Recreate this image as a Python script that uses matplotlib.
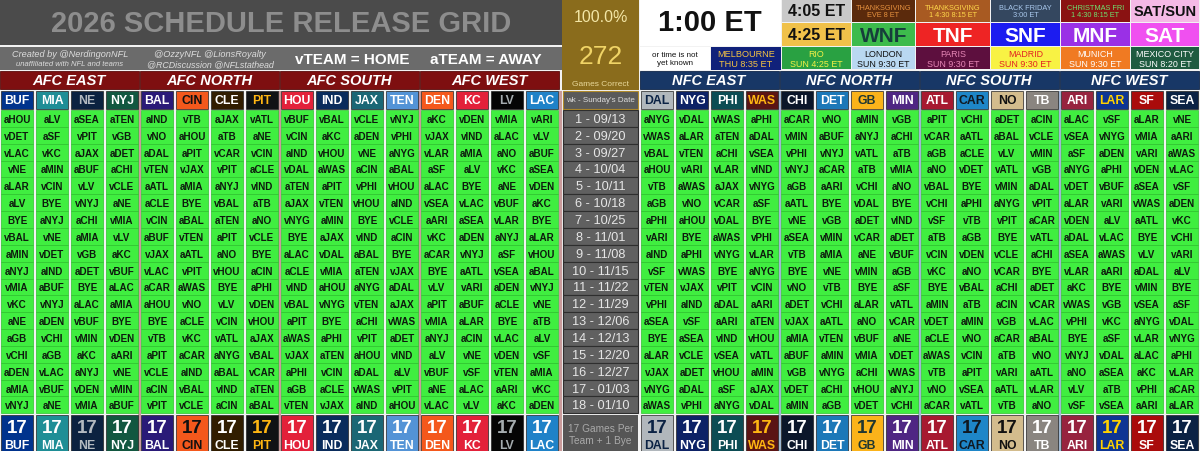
import matplotlib
matplotlib.use("Agg")
import matplotlib.pyplot as plt
from matplotlib.patches import Rectangle

plt.rcParams['font.family'] = ['Liberation Sans', 'DejaVu Sans']

# ---- data ----
afc_teams = ["BUF", "MIA", "NE", "NYJ", "BAL", "CIN", "CLE", "PIT",
             "HOU", "IND", "JAX", "TEN", "DEN", "KC", "LV", "LAC"]
nfc_teams = ["DAL", "NYG", "PHI", "WAS", "CHI", "DET", "GB", "MIN",
             "ATL", "CAR", "NO", "TB", "ARI", "LAR", "SF", "SEA"]
afc_divisions = ["AFC EAST", "AFC NORTH", "AFC SOUTH", "AFC WEST"]
nfc_divisions = ["NFC EAST", "NFC NORTH", "NFC SOUTH", "NFC WEST"]
week_labels = ["1 - 09/13", "2 - 09/20", "3 - 09/27", "4 - 10/04", "5 - 10/11",
               "6 - 10/18", "7 - 10/25", "8 - 11/01", "9 - 11/08", "10 - 11/15",
               "11 - 11/22", "12 - 11/29", "13 - 12/06", "14 - 12/13", "15 - 12/20",
               "16 - 12/27", "17 - 01/03", "18 - 01/10"]
pct_correct = "100.0%"
games_correct = 272

# opponent by week, v = home, a = away
BUF = ["aHOU", "vDET", "vLAC", "vNE", "aLAR", "aLV", "BYE", "vBAL", "aMIN", "aNYJ", "vMIA", "vKC", "aNE", "aGB", "vCHI", "aDEN", "aMIA", "vNYJ"]
MIA = ["aLV", "aSF", "vKC", "aMIN", "vCIN", "BYE", "aNYJ", "vNE", "vDET", "aIND", "aBUF", "vNYJ", "aDEN", "vCHI", "aGB", "vLAC", "vBUF", "aNE"]
NE = ["aSEA", "vPIT", "aJAX", "aBUF", "vLV", "vNYJ", "aCHI", "aMIA", "vGB", "aDET", "BYE", "aLAC", "vBUF", "vMIN", "aKC", "aNYJ", "vDEN", "vMIA"]
NYJ = ["aTEN", "vGB", "aDET", "aCHI", "vCLE", "aNE", "vMIA", "vLV", "aKC", "vBUF", "aLAC", "aMIA", "BYE", "vDEN", "aARI", "vNE", "vMIN", "aBUF"]
BAL = ["aIND", "vNO", "aDAL", "vTEN", "aATL", "aCLE", "vCIN", "aBUF", "vJAX", "vLAC", "aCAR", "aHOU", "BYE", "vTB", "aPIT", "vCLE", "aCIN", "vPIT"]
CIN = ["vTB", "aHOU", "aPIT", "vJAX", "aMIA", "BYE", "aBAL", "vTEN", "aATL", "vPIT", "aWAS", "vNO", "aCLE", "vKC", "aCAR", "aIND", "vBAL", "vCLE"]
CLE = ["aJAX", "aTB", "vCAR", "vPIT", "aNYJ", "vBAL", "aTEN", "aPIT", "aNO", "vHOU", "BYE", "vLV", "vCIN", "vATL", "aNYG", "aBAL", "vIND", "aCIN"]
PIT = ["vATL", "aNE", "vCIN", "aCLE", "vIND", "aTB", "aNO", "vCLE", "BYE", "aCIN", "aPHI", "vDEN", "vHOU", "aJAX", "vBAL", "vCAR", "aTEN", "aBAL"]
HOU = ["vBUF", "vCIN", "aIND", "vDAL", "aTEN", "aJAX", "vNYG", "BYE", "aLAC", "aCLE", "vIND", "vBAL", "aPIT", "aWAS", "vJAX", "aPHI", "aGB", "vTEN"]
IND = ["vBAL", "aKC", "vHOU", "aWAS", "aPIT", "vTEN", "aMIN", "aJAX", "vDAL", "vMIA", "aHOU", "vNYG", "BYE", "aPHI", "aTEN", "vCIN", "aCLE", "vJAX"]
JAX = ["vCLE", "aDEN", "vNE", "aCIN", "vPHI", "vHOU", "BYE", "vIND", "aBAL", "aTEN", "aNYG", "vTEN", "aCHI", "vPIT", "aHOU", "aDAL", "vWAS", "aIND"]
TEN = ["vNYJ", "vPHI", "aNYG", "aBAL", "vHOU", "aIND", "vCLE", "aCIN", "BYE", "vJAX", "aDAL", "aJAX", "vWAS", "aDET", "vIND", "aLV", "vPIT", "aHOU"]
DEN = ["aKC", "vJAX", "vLAR", "aSF", "aLAC", "vSEA", "aARI", "vKC", "aCAR", "BYE", "vLV", "aPIT", "vMIA", "aNYJ", "aLV", "vBUF", "aNE", "vLAC"]
KC = ["vDEN", "vIND", "aMIA", "aLV", "BYE", "vLAC", "aSEA", "aDEN", "vNYJ", "aATL", "vARI", "aBUF", "aLAR", "aCIN", "vNE", "vSF", "aLAC", "vLV"]
LV = ["vMIA", "aLAC", "aNO", "vKC", "aNE", "vBUF", "vLAR", "aNYJ", "aSF", "vSEA", "aDEN", "aCLE", "BYE", "vLAC", "vDEN", "vTEN", "aARI", "aKC"]
LAC = ["vARI", "vLV", "aBUF", "aSEA", "vDEN", "aKC", "BYE", "aLAR", "vHOU", "aBAL", "vNYJ", "vNE", "aTB", "aLV", "vSF", "aMIA", "vKC", "aDEN"]
DAL = ["aNYG", "vWAS", "vBAL", "aHOU", "vTB", "aGB", "aPHI", "vARI", "aIND", "vSF", "vTEN", "vPHI", "aSEA", "BYE", "aLAR", "vJAX", "vNYG", "aWAS"]
NYG = ["vDAL", "aLAR", "vTEN", "vARI", "aWAS", "vNO", "aHOU", "BYE", "aPHI", "vWAS", "vJAX", "aIND", "vSF", "aSEA", "vCLE", "aDET", "aDAL", "vPHI"]
PHI = ["vWAS", "aTEN", "aCHI", "vLAR", "aJAX", "vCAR", "vDAL", "aWAS", "vNYG", "BYE", "vPIT", "aDAL", "aARI", "vIND", "vSEA", "vHOU", "aSF", "aNYG"]
WAS = ["aPHI", "aDAL", "vSEA", "vIND", "vNYG", "aSF", "BYE", "vPHI", "vLAR", "aNYG", "vCIN", "aARI", "aTEN", "vHOU", "vATL", "aMIN", "aJAX", "vDAL"]
CHI = ["aCAR", "vMIN", "vPHI", "vNYJ", "aGB", "aATL", "vNE", "aSEA", "vTB", "BYE", "vNO", "aDET", "vJAX", "aMIA", "aBUF", "vGB", "vDET", "aMIN"]
DET = ["vNO", "aBUF", "vNYJ", "aCAR", "aARI", "BYE", "vGB", "vMIN", "aMIA", "vNE", "vTB", "vCHI", "aATL", "vTEN", "aMIN", "vNYG", "aCHI", "aGB"]
GB = ["aMIN", "aNYJ", "vATL", "aTB", "vCHI", "vDAL", "aDET", "vCAR", "aNE", "vMIN", "BYE", "aLAR", "aNO", "vBUF", "vMIA", "aCHI", "vHOU", "vDET"]
MIN = ["vGB", "aCHI", "aTB", "vMIA", "aNO", "BYE", "vIND", "aDET", "vBUF", "aGB", "aSF", "vATL", "vCAR", "aNE", "vDET", "vWAS", "aNYJ", "vCHI"]
ATL = ["aPIT", "vCAR", "aGB", "aNO", "vBAL", "vCHI", "vSF", "aTB", "vCIN", "vKC", "BYE", "aMIN", "vDET", "aCLE", "aWAS", "vTB", "vNO", "aCAR"]
CAR = ["vCHI", "aATL", "aCLE", "vDET", "BYE", "aPHI", "vTB", "aGB", "vDEN", "aNO", "vBAL", "aTB", "aMIN", "vNO", "vCIN", "aPIT", "vSEA", "vATL"]
NO = ["aDET", "aBAL", "vLV", "vATL", "vMIN", "aNYG", "vPIT", "BYE", "vCLE", "vCAR", "aCHI", "aCIN", "vGB", "aCAR", "aTB", "vARI", "aATL", "vTB"]
TB = ["aCIN", "vCLE", "vMIN", "vGB", "aDAL", "vPIT", "aCAR", "vATL", "aCHI", "BYE", "aDET", "vCAR", "vLAC", "aBAL", "vNO", "aATL", "vLAR", "aNO"]
ARI = ["aLAC", "vSEA", "aSF", "aNYG", "vDET", "aLAR", "vDEN", "aDAL", "aSEA", "vLAR", "aKC", "vWAS", "vPHI", "BYE", "vNYJ", "aNO", "vLV", "vSF"]
LAR = ["vSF", "vNYG", "aDEN", "aPHI", "vBUF", "vARI", "aLV", "vLAC", "aWAS", "aARI", "BYE", "vGB", "vKC", "aSF", "vDAL", "aSEA", "aTB", "vSEA"]
SF = ["aLAR", "vMIA", "vARI", "vDEN", "aSEA", "vWAS", "aATL", "BYE", "vLV", "aDAL", "vMIN", "vSEA", "aNYG", "vLAR", "aLAC", "aKC", "vPHI", "aARI"]
SEA = ["vNE", "aARI", "aWAS", "vLAC", "vSF", "aDEN", "vKC", "vCHI", "vARI", "aLV", "BYE", "aSF", "vDAL", "vNYG", "aPHI", "vLAR", "aCAR", "aLAR"]

afc_sched = [BUF, MIA, NE, NYJ, BAL, CIN, CLE, PIT, HOU, IND, JAX, TEN, DEN, KC, LV, LAC]
nfc_sched = [DAL, NYG, PHI, WAS, CHI, DET, GB, MIN, ATL, CAR, NO, TB, ARI, LAR, SF, SEA]

# legend boxes in the top right corner
legend_text = [["4:05 ET", "THANKSGIVING\nEVE 8 ET", "THANKSGIVING\n1 4:30 8:15 ET",
                "BLACK FRIDAY\n3:00 ET", "CHRISTMAS FRI\n1 4:30 8:15 ET", "SAT/SUN"],
               ["4:25 ET", "WNF", "TNF", "SNF", "MNF", "SAT"],
               ["RIO\nSUN 4:25 ET", "LONDON\nSUN 9:30 ET", "PARIS\nSUN 9:30 ET",
                "MADRID\nSUN 9:30 ET", "MUNICH\nSUN 9:30 ET", "MEXICO CITY\nSUN 8:20 ET"]]
legend_bg = [["#c9c9c9", "#5b2a0c", "#a85a22", "#34475f", "#8a1212", "#f5b9e6"],
             ["#f0c14a", "#3dbb4c", "#ee2424", "#1c1cf0", "#9a30e6", "#f050f0"],
             ["#29a142", "#b9d8f1", "#5d0f3e", "#f8f244", "#f07a22", "#1f5b40"]]
legend_fg = [["#111111", "#e6913e", "#ffd84a", "#a9c8ec", "#6fe06f", "#111111"],
             ["#111111", "#163d3b", "white", "white", "white", "white"],
             ["#f4f046", "#111111", "#e585b5", "#e22222", "white", "white"]]
legend_size = [[11.5, 5.3, 5.3, 5.3, 5.3, 10.5],
               [11.5, 15, 15, 15, 15, 15],
               [6.4, 6.4, 6.4, 6.4, 6.4, 6.4]]

team_bg = {"BUF": "#00338d", "MIA": "#1e8e96", "NE": "#0b2240", "NYJ": "#125740",
           "BAL": "#2a1a78", "CIN": "#f4581c", "CLE": "#311d00", "PIT": "#101214",
           "HOU": "#e3213a", "IND": "#0a2c5c", "JAX": "#1b6775", "TEN": "#5393d6",
           "DEN": "#f4581c", "KC": "#e3213a", "LV": "#050505", "LAC": "#1f82c8",
           "DAL": "#b1b7bc", "NYG": "#0d2266", "PHI": "#0c4c54", "WAS": "#5a1414",
           "CHI": "#0b162a", "DET": "#1c78b8", "GB": "#fbb31a", "MIN": "#4f2683",
           "ATL": "#a71930", "CAR": "#1e86c8", "NO": "#d3bc8d", "TB": "#8a8580",
           "ARI": "#97233f", "LAR": "#0e3593", "SF": "#aa0b0b", "SEA": "#0b2244"}
team_fg = {"NE": "#b3bac0", "PIT": "#ffb612", "CIN": "#111111", "LV": "#a5acaf",
           "DAL": "#0b2244", "WAS": "#ffb612", "GB": "#203731", "CAR": "#101820",
           "NO": "#111111", "LAR": "#ffd100"}

# ---- layout (pixels) ----
COL_W, CELL_W = 35, 32
AFC_X0, NFC_X0 = 1, 641
MID_X0, MID_W = 563, 75
HEAD_Y, HEAD_H = 92, 18
ROW_Y0, ROW_H = 111, 16.85
FOOT_Y, FOOT_H = ROW_Y0 + 18 * ROW_H + 1.5, 38
GREEN = "#40ee40"

fig = plt.figure(figsize=(12, 4.52), dpi=100)
ax = fig.add_axes([0, 0, 1, 1])
ax.set_xlim(0, 1200)
ax.set_ylim(452, 0)
ax.axis("off")
fig.patch.set_facecolor("#f2f2f2")


def box(x, y, w, h, fc, ec="none", lw=0.0):
    ax.add_patch(Rectangle((x, y), w, h, facecolor=fc, edgecolor=ec, linewidth=lw))


def write(x, y, s, size, color, weight="bold", style="normal", ls=1.0):
    ax.text(x, y, s, ha="center", va="center", fontsize=size, color=color,
            fontweight=weight, fontstyle=style, linespacing=ls)


# ---- header block ----
box(0, 0, MID_X0 - 1, 46, "#4b4b4b")
write(281, 24, "2026 SCHEDULE RELEASE GRID", 21, "#8d8d8d")
box(0, 48, MID_X0 - 1, 23, "#6b6b6b")
write(70, 54.5, "Created by @NerdingonNFL", 6.6, "#dcdcdc", "normal", "italic")
write(70, 65, "unaffiliated with NFL and teams", 5.5, "#dcdcdc", "normal", "italic")
write(210, 54.5, "@OzzyNFL @LionsRoyalty", 6.6, "#dcdcdc", "normal", "italic")
write(210, 65, "@RCDiscussion @NFLstathead", 6.4, "#dcdcdc", "normal", "italic")
write(352, 59.5, "vTEAM = HOME", 11, "white")
write(486, 59.5, "aTEAM = AWAY", 11, "white")

# gold "games correct" box
box(MID_X0 - 1, 0, MID_W + 2, HEAD_Y - 1, "#8a6c1c")
write(MID_X0 + MID_W / 2, 17, pct_correct, 11.5, "#f3e6a6", "normal")
write(MID_X0 + MID_W / 2, 57, str(games_correct), 19, "#f0d466", "normal")
write(MID_X0 + MID_W / 2, 85, "Games Correct", 6, "#e8d89a", "normal")

# kickoff time legend
box(NFC_X0 - 1, 0, 141, 47, "white")
write(710, 23, "1:00 ET", 21, "#111111")
box(NFC_X0 - 1, 48, 70, 23, "white")
write(675, 59.5, "or time is not\nyet known", 5.8, "#111111", "normal", ls=1.25)
box(711, 48, 70, 23, "#10217a")
write(746, 59.5, "MELBOURNE\nTHU 8:35 ET", 6.6, "#f2c244", "normal", ls=1.1)

leg_x = [782, 852, 916, 991, 1061, 1131, 1200]
leg_y = [0, 24, 48, 71]
for r in range(3):
    for c in range(6):
        x, w = leg_x[c], leg_x[c + 1] - leg_x[c] - 1
        y, h = leg_y[r], leg_y[r + 1] - leg_y[r] - 1
        box(x, y, w, h, legend_bg[r][c])
        wt = "bold" if legend_size[r][c] > 10 else "normal"
        write(x + w / 2, y + h / 2 + 0.5, legend_text[r][c], legend_size[r][c],
              legend_fg[r][c], wt, ls=1.1)

# division bars
for k in range(4):
    box(AFC_X0 - 1 + k * 4 * COL_W, 72, 4 * COL_W - 1, 18, "#7e0f10", "#5a0a0a", 0.6)
    write(AFC_X0 + k * 4 * COL_W + 2 * COL_W - 2, 81, afc_divisions[k], 10.5, "white",
          style="italic")
    box(NFC_X0 - 1 + k * 4 * COL_W, 72, 4 * COL_W - 1, 18, "#183766", "#0f2548", 0.6)
    write(NFC_X0 + k * 4 * COL_W + 2 * COL_W - 2, 81, nfc_divisions[k], 10.5, "white",
          style="italic")

# division separators running down the grid
for x0, sep in [(AFC_X0, "#c99b9b"), (NFC_X0, "#9fb7d2")]:
    for k in range(1, 4):
        box(x0 + k * 4 * COL_W - 3.5, HEAD_Y, 3.5, 452 - HEAD_Y, sep)
box(MID_X0 - 4, HEAD_Y, 3, 452 - HEAD_Y, "#c99b9b")

# ---- team columns ----
for x0, teams, sched in [(AFC_X0, afc_teams, afc_sched), (NFC_X0, nfc_teams, nfc_sched)]:
    for i, team in enumerate(teams):
        x = x0 + i * COL_W
        bg = team_bg[team]
        fg = team_fg.get(team, "white")
        box(x, HEAD_Y, CELL_W, HEAD_H, bg, "#222222", 0.5)
        write(x + CELL_W / 2, HEAD_Y + HEAD_H / 2 + 0.5, team, 8.8, fg)
        for w, opp in enumerate(sched[i]):
            y = ROW_Y0 + w * ROW_H
            box(x, y, CELL_W, ROW_H, GREEN, "#2dc22d", 0.5)
            write(x + CELL_W / 2, y + ROW_H / 2 + 0.5, opp, 7.1, "#0d1a0d")
        played = len([g for g in sched[i] if g != "BYE"])
        box(x, FOOT_Y, CELL_W, FOOT_H, bg, "#222222", 0.5)
        write(x + CELL_W / 2, FOOT_Y + 13, str(played), 13.5, fg)
        write(x + CELL_W / 2, FOOT_Y + 30, team, 8.8, fg)

# ---- week column ----
box(MID_X0, HEAD_Y, MID_W, HEAD_H, "#5a5a5a", "#b08a2a", 0.8)
write(MID_X0 + MID_W / 2, HEAD_Y + HEAD_H / 2, "wk - Sunday's Date", 5.8, "#dddddd", "normal")
for w, lab in enumerate(week_labels):
    y = ROW_Y0 + w * ROW_H
    box(MID_X0, y, MID_W, ROW_H, "#606060", "#2e2e2e", 0.8)
    write(MID_X0 + MID_W / 2, y + ROW_H / 2 + 0.5, lab, 9.2, "#e6e6e6", "normal")
box(MID_X0, FOOT_Y, MID_W, FOOT_H, "#555555")
write(MID_X0 + MID_W / 2, FOOT_Y + FOOT_H / 2, "17 Games Per\nTeam + 1 Bye", 7.3, "#a9a9a9",
      "normal", ls=1.3)

fig.savefig("out.png", dpi=100, facecolor=fig.get_facecolor())
